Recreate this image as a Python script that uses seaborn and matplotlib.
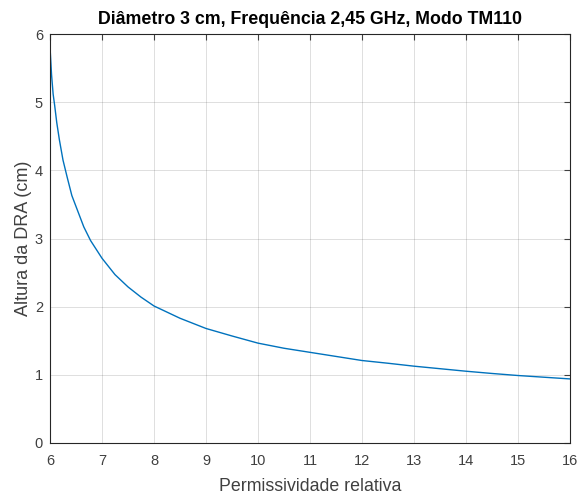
import numpy as np
import pandas as pd
import matplotlib
matplotlib.use("Agg")
import matplotlib.pyplot as plt
import seaborn as sns

# valores (altura do DRA vs permissividade relativa)
permissividade = [6.00, 6.03, 6.06, 6.09, 6.13, 6.18, 6.25, 6.33, 6.42, 6.50,
                  6.65, 6.78, 7.00, 7.25, 7.50, 7.75, 8.00, 8.50, 9.00, 9.50,
                  10.0, 10.5, 11.0, 11.5, 12.0, 12.5, 13.0, 13.5, 14.0, 14.5,
                  15.0, 15.5, 16.0]
altura = [5.81, 5.40, 5.12, 4.95, 4.70, 4.45, 4.15, 3.90, 3.63, 3.47,
          3.17, 2.97, 2.71, 2.47, 2.29, 2.14, 2.01, 1.83, 1.68, 1.57,
          1.465, 1.39, 1.33, 1.27, 1.21, 1.17, 1.127, 1.09, 1.053, 1.02,
          0.99, 0.965, 0.94]

df = pd.DataFrame({'er': permissividade, 'h': altura})

sns.set_style('whitegrid')
plt.rcParams['font.family'] = ['Liberation Sans', 'DejaVu Sans']

fig = plt.figure(figsize=(5.77, 4.96), dpi=100)
ax = fig.add_axes([50 / 577, 1 - 443 / 496, 520 / 577, 409 / 496])

sns.lineplot(data=df, x='er', y='h', ax=ax, color='#0072BD', linewidth=1.0)

ax.set_xlim(6, 16)
ax.set_ylim(0, 6)
ax.set_xticks(range(6, 17))
ax.set_yticks(range(0, 7))
ax.grid(True, color='#262626', alpha=0.15, linewidth=0.7)
for s in ax.spines.values():
    s.set_visible(True)
    s.set_color('#262626')
    s.set_linewidth(0.8)
ax.tick_params(direction='in', length=4, width=0.8, colors='#404040',
               labelsize=10.5, top=True, right=True)
ax.tick_params(axis='x', pad=8)
ax.tick_params(axis='y', pad=5)
ax.set_xlabel('Permissividade relativa', fontsize=12.8, color='#404040', labelpad=7)
ax.set_ylabel('Altura da DRA (cm)', fontsize=13, color='#404040', labelpad=2)
ax.set_title('Diâmetro 3 cm, Frequência 2,45 GHz, Modo TM110',
             fontsize=12.8, fontweight='bold', color='black', pad=7)

fig.savefig('out.png', dpi=100)
